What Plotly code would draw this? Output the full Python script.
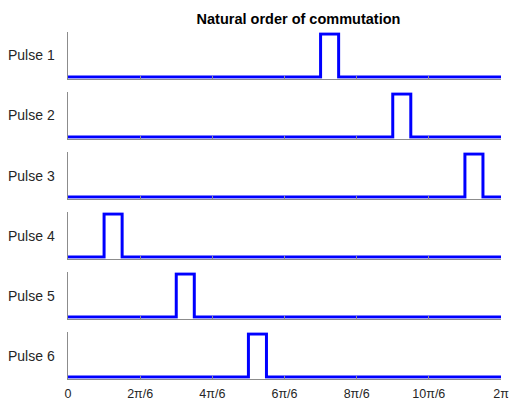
import numpy as np
import plotly.graph_objects as go

# ---- data ----
pulse_labels = ["Pulse 1", "Pulse 2", "Pulse 3", "Pulse 4", "Pulse 5", "Pulse 6"]
pulse_start_sixths = [7, 9, 11, 1, 3, 5]      # pulse start, in units of pi/6
pulse_width_sixths = 0.5                       # pulse width, in units of pi/6
tick_sixths = [0, 2, 4, 6, 8, 10, 12]
tick_labels = ["0", "2π/6", "4π/6", "6π/6", "8π/6", "10π/6", "2π"]
title_text = "Natural order of commutation"

W, H = 509, 398
ML, MR, MT, MB = 68, 8, 31, 18
FIRST_TOP = 34
plot_h = H - MT - MB
sub_h = 43
gap = 17
pad = 0.04

fig = go.Figure()
unit = np.pi / 6
font = "Liberation Sans, Arial, Helvetica, sans-serif"
axcol = "#8c8c8c"

for i, (lab, s) in enumerate(zip(pulse_labels, pulse_start_sixths)):
    a = s * unit
    b = (s + pulse_width_sixths) * unit
    xs = [0, a, a, b, b, 2 * np.pi]
    ys = [0, 0, 1, 1, 0, 0]
    n = i + 1
    xa = "x" if n == 1 else f"x{n}"
    ya = "y" if n == 1 else f"y{n}"
    fig.add_trace(go.Scatter(x=xs, y=ys, mode="lines", xaxis=xa, yaxis=ya,
                             line=dict(color="#0000ff", width=3), showlegend=False,
                             hoverinfo="skip"))
    top_px = FIRST_TOP + i * (sub_h + gap)
    bot_px = top_px + sub_h
    extra = sub_h * pad
    d_top = 1 - (top_px - extra - MT) / plot_h
    d_bot = 1 - (bot_px + extra - MT) / plot_h
    last = (i == len(pulse_labels) - 1)
    fig.layout[f"xaxis{'' if n == 1 else n}"] = dict(
        domain=[0, 1], anchor=ya, range=[0, 2 * np.pi], automargin=False,
        tickvals=[t * unit for t in tick_sixths], ticktext=tick_labels,
        showticklabels=last, ticks="inside", ticklen=3, tickwidth=1,
        tickcolor=axcol, showline=True, linecolor=axcol, linewidth=1,
        showgrid=False, zeroline=False, ticklabelstandoff=3,
        ticklabeloverflow="allow",
        tickfont=dict(family=font, size=12.5, color="#262626"),
        matches="x" if n != 1 else None,
    )
    fig.layout[f"yaxis{'' if n == 1 else n}"] = dict(
        domain=[max(0, d_bot), min(1, d_top)], anchor=xa, range=[-pad, 1 + pad],
        automargin=False,
        showticklabels=False, ticks="", showline=True, linecolor=axcol,
        linewidth=1, showgrid=False, zeroline=False,
    )
    fig.add_annotation(text=lab, xref="paper", yref="paper",
                       x=(57 - ML) / (W - ML - MR), xanchor="right",
                       y=(d_top + d_bot) / 2, yanchor="middle", showarrow=False,
                       font=dict(family=font, size=14, color="#262626"))

fig.update_layout(
    width=W, height=H,
    margin=dict(l=ML, r=MR, t=MT, b=MB, autoexpand=False),
    paper_bgcolor="white", plot_bgcolor="white",
    title=dict(text="<b>" + title_text + "</b>", x=298.5 / W, xref="container",
               xanchor="center", y=1 - 19 / H, yanchor="middle",
               font=dict(family=font, size=14.5, color="#000000")),
)

fig.write_html("out.html", config={"displayModeBar": False},
               post_script="document.body.style.margin='0';document.body.style.padding='0';document.body.style.overflow='hidden';")
